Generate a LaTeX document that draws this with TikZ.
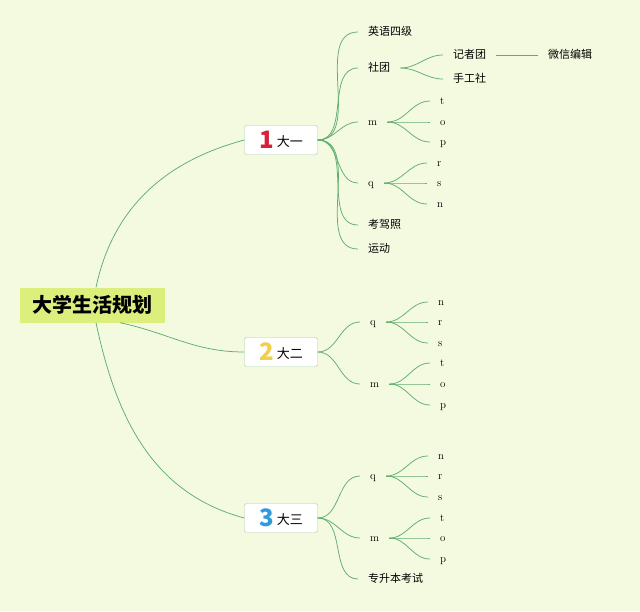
\documentclass[tikz,border=0pt]{standalone}
\usepackage{fontspec}
\usepackage{tikz}
\usetikzlibrary{positioning, calc}
\newfontfamily\cjk{Noto Sans CJK SC}
\definecolor{paper}{HTML}{F4FADF}
\definecolor{branch}{HTML}{5FAE70}
\definecolor{rootbg}{HTML}{DCEE7C}
\definecolor{boxline}{HTML}{A9CDB0}
\definecolor{numred}{HTML}{D6223B}
\definecolor{numyellow}{HTML}{F2CF4A}
\definecolor{numblue}{HTML}{2F9BDD}
\newcommand{\yearnum}[3]{{\bfseries\fontsize{24}{24}\selectfont\textcolor{#1}{#2}}\ \raisebox{2pt}{#3}}

\begin{document}
\begin{tikzpicture}[x=1pt, y=-1pt,
  root/.style={fill=rootbg, minimum width=145pt, minimum height=35pt, inner sep=0pt, font=\cjk\bfseries\fontsize{20}{20}\selectfont},
  year/.style={draw=boxline, fill=white, rounded corners=1.5pt, minimum width=73pt, minimum height=29pt, inner sep=0pt, font=\cjk\fontsize{13}{13}\selectfont},
  item/.style={anchor=west, inner xsep=10pt, inner ysep=1pt, text height=8pt, text depth=2pt, font=\cjk\fontsize{11}{11}\selectfont},
  leaf/.style={anchor=west, inner xsep=10pt, inner ysep=1pt, text height=8pt, text depth=2pt, font=\fontsize{11}{11}\selectfont},
  link/.style={draw=branch, line width=0.75pt}
]
\fill[paper] (0,0) rectangle (640,611);

% root and the three years
\node[root] (plan) at (92,305) {大学生活规划};
\node[year] (yr1) at (281,140) {\yearnum{numred}{1}{大一}};
\node[year] (yr2) at (281,352) {\yearnum{numyellow}{2}{大二}};
\node[year] (yr3) at (281,518) {\yearnum{numblue}{3}{大三}};

\draw[link] ([xshift=4pt]plan.north) to[out=78, in=195] (yr1.west);
\draw[link] ([xshift=28pt]plan.south) to[out=-12, in=180] (yr2.west);
\draw[link] ([xshift=4pt]plan.south) to[out=-78, in=165] (yr3.west);

% year one
\node[item] (cet4) at (358,32) {英语四级};
\node[item] (club) at (358,68) {社团};
\node[leaf] (m1) at (358,122) {m};
\node[leaf] (q1) at (358,183) {q};
\node[item] (drive) at (358,225) {考驾照};
\node[item] (sport) at (358,249) {运动};

\node[item] (reporter) at (443,55) {记者团};
\node[item] (craft) at (443,79) {手工社};
\node[item] (wechat) at (538,55) {微信编辑};

\node[leaf] (m1t) at (430,101) {t};
\node[leaf] (m1o) at (430,122) {o};
\node[leaf] (m1p) at (430,142) {p};
\node[leaf] (q1r) at (427,163) {r};
\node[leaf] (q1s) at (427,183) {s};
\node[leaf] (q1n) at (427,204) {n};

\draw[link] (yr1.east) to[out=0, in=180] (cet4.west);
\draw[link] (yr1.east) to[out=0, in=180] (club.west);
\draw[link] (yr1.east) to[out=0, in=180] (m1.west);
\draw[link] (yr1.east) to[out=0, in=180] (q1.west);
\draw[link] (yr1.east) to[out=0, in=180] (drive.west);
\draw[link] (yr1.east) to[out=0, in=180] (sport.west);

\draw[link] (club.east) to[out=0, in=180] (reporter.west);
\draw[link] (club.east) to[out=0, in=180] (craft.west);
\draw[link] (reporter.east) -- (wechat.west);

\draw[link] (m1.east) to[out=0, in=180] (m1t.west);
\draw[link] (m1.east) to[out=0, in=180] (m1o.west);
\draw[link] (m1.east) to[out=0, in=180] (m1p.west);
\draw[link] (q1.east) to[out=0, in=180] (q1r.west);
\draw[link] (q1.east) to[out=0, in=180] (q1s.west);
\draw[link] (q1.east) to[out=0, in=180] (q1n.west);

% year two
\node[leaf] (q2) at (360,322) {q};
\node[leaf] (m2) at (360,384) {m};
\node[leaf] (q2n) at (428,302) {n};
\node[leaf] (q2r) at (428,322) {r};
\node[leaf] (q2s) at (428,343) {s};
\node[leaf] (m2t) at (430,363) {t};
\node[leaf] (m2o) at (430,384) {o};
\node[leaf] (m2p) at (430,405) {p};

\draw[link] (yr2.east) to[out=0, in=180] (q2.west);
\draw[link] (yr2.east) to[out=0, in=180] (m2.west);
\draw[link] (q2.east) to[out=0, in=180] (q2n.west);
\draw[link] (q2.east) to[out=0, in=180] (q2r.west);
\draw[link] (q2.east) to[out=0, in=180] (q2s.west);
\draw[link] (m2.east) to[out=0, in=180] (m2t.west);
\draw[link] (m2.east) to[out=0, in=180] (m2o.west);
\draw[link] (m2.east) to[out=0, in=180] (m2p.west);

% year three
\node[leaf] (q3) at (360,476) {q};
\node[leaf] (m3) at (360,538) {m};
\node[item] (exam) at (358,579) {专升本考试};
\node[leaf] (q3n) at (428,456) {n};
\node[leaf] (q3r) at (428,476) {r};
\node[leaf] (q3s) at (428,497) {s};
\node[leaf] (m3t) at (430,518) {t};
\node[leaf] (m3o) at (430,538) {o};
\node[leaf] (m3p) at (430,559) {p};

\draw[link] (yr3.east) to[out=0, in=180] (q3.west);
\draw[link] (yr3.east) to[out=0, in=180] (m3.west);
\draw[link] (yr3.east) to[out=0, in=180] (exam.west);
\draw[link] (q3.east) to[out=0, in=180] (q3n.west);
\draw[link] (q3.east) to[out=0, in=180] (q3r.west);
\draw[link] (q3.east) to[out=0, in=180] (q3s.west);
\draw[link] (m3.east) to[out=0, in=180] (m3t.west);
\draw[link] (m3.east) to[out=0, in=180] (m3o.west);
\draw[link] (m3.east) to[out=0, in=180] (m3p.west);
\end{tikzpicture}
\end{document}
